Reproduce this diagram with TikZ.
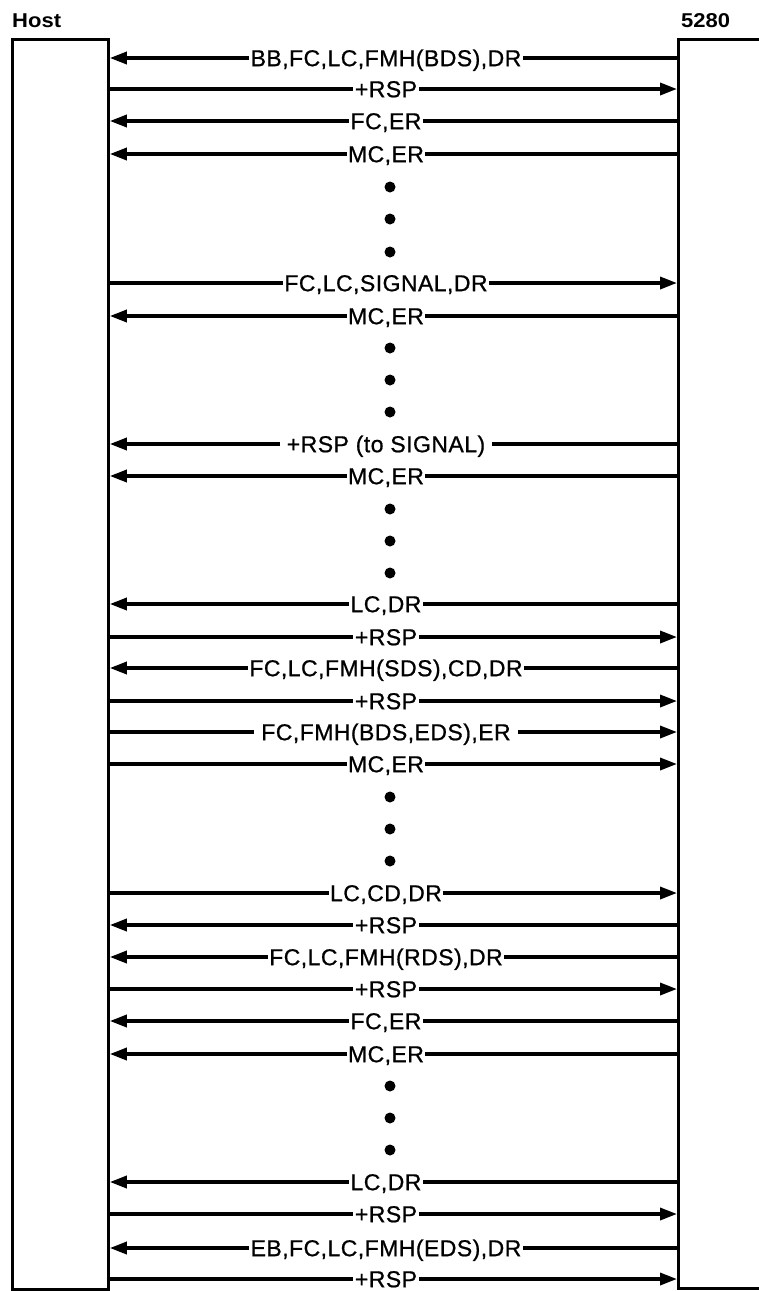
\documentclass[tikz,border=0pt]{standalone}
\usepackage{fontspec}
\setmainfont{Liberation Sans}[LetterSpace=2, FakeBold=0.8]
\newfontfamily\hdfont{Liberation Sans}[FakeStretch=1.1]
\usetikzlibrary{arrows.meta}
\tikzset{
  msg/.style={line width=3.4pt, -{Triangle[length=17pt,width=12pt]}},
  lbl/.style={fill=white, inner xsep=1.5pt, inner ysep=1pt, anchor=base, font=\fontsize{23}{23}\selectfont},
  wlbl/.style={lbl, inner xsep=7pt},
  seqdot/.style={circle, fill=black, inner sep=0pt, minimum size=11pt},
  lifebox/.style={draw, line width=2.8pt, rectangle, inner sep=0pt, anchor=north west},
  hdr/.style={anchor=base west, inner sep=0pt, font=\hdfont\bfseries\fontsize{20}{20}\selectfont}
}
\begin{document}
\begin{tikzpicture}[x=1pt,y=-1pt]
\useasboundingbox (0,0) rectangle (759,1291);
\node[lifebox, minimum width=96pt, minimum height=1250pt] (host) at (11,38) {};
\node[lifebox, minimum width=120pt, minimum height=1249pt] (term) at (677,38) {};
\node[hdr] (hostlbl) at (12,27) {Host};
\node[hdr] (termlbl) at (681,27) {5280};
% leftward messages (5280 -> Host)
\foreach \y/\t/\s in {58/{BB,FC,LC,FMH(BDS),DR}/lbl, 121/{FC,ER}/lbl, 154/{MC,ER}/lbl,
  316/{MC,ER}/lbl, 444/{+RSP (to SIGNAL)}/wlbl, 476/{MC,ER}/lbl, 604/{LC,DR}/lbl,
  668/{FC,LC,FMH(SDS),CD,DR}/lbl, 925/{+RSP}/lbl, 957/{FC,LC,FMH(RDS),DR}/lbl,
  1021/{FC,ER}/lbl, 1054/{MC,ER}/lbl, 1182/{LC,DR}/lbl, 1248/{EB,FC,LC,FMH(EDS),DR}/lbl}{
  \coordinate (hl\y) at (host.east |- 0,\y);
  \coordinate (tl\y) at (term.west |- 0,\y);
  \draw[msg] (tl\y) -- (hl\y);
  \node[\s] (m\y) at (386,\y+8.2) {\t};
}
% rightward messages (Host -> 5280)
\foreach \y/\t/\s in {89/{+RSP}/lbl, 283/{FC,LC,SIGNAL,DR}/lbl, 637/{+RSP}/lbl,
  701/{+RSP}/lbl, 732/{FC,FMH(BDS,EDS),ER}/wlbl, 764/{MC,ER}/lbl, 893/{LC,CD,DR}/lbl,
  989/{+RSP}/lbl, 1214/{+RSP}/lbl, 1279/{+RSP}/lbl}{
  \coordinate (hr\y) at (host.east |- 0,\y);
  \coordinate (tr\y) at (term.west |- 0,\y);
  \draw[msg] (hr\y) -- (tr\y);
  \node[\s] (m\y) at (386,\y+8.2) {\t};
}
% continuation dots
\foreach \y in {187,219,252,348,380,412,509,541,573,797,829,861,1086,1118,1150}{
  \node[seqdot] (d\y) at (390,\y) {};
}
\end{tikzpicture}
\end{document}
